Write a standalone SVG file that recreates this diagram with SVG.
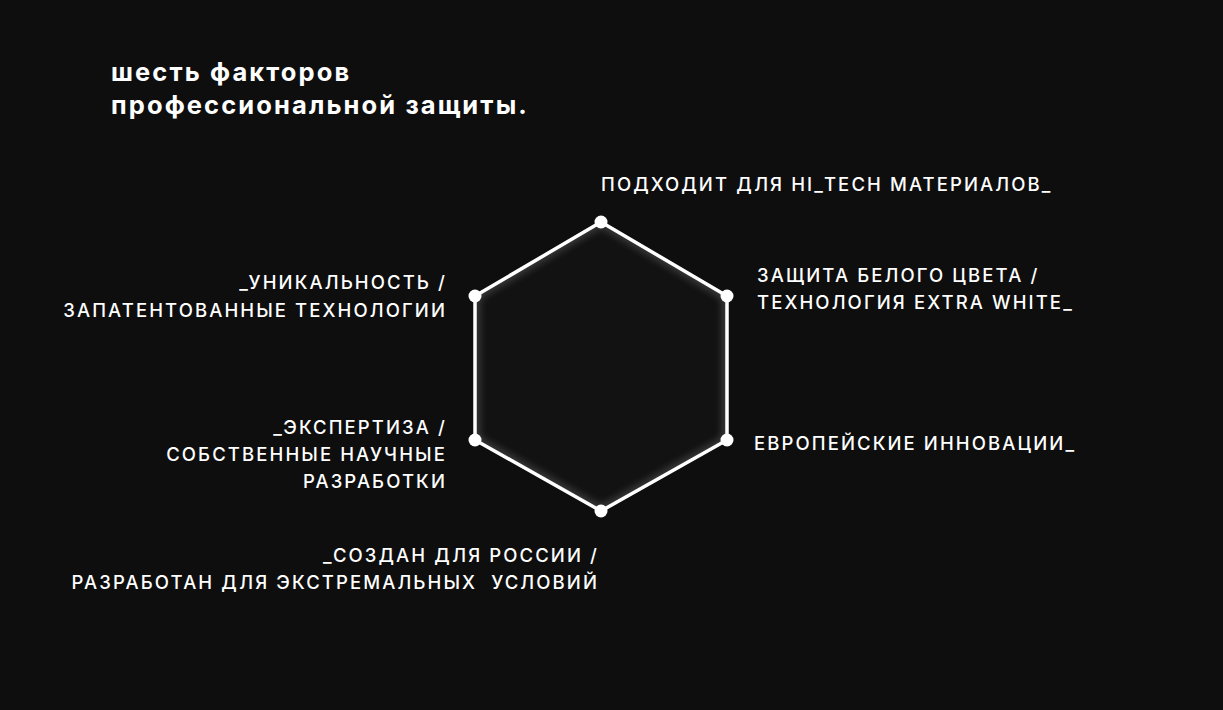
<svg xmlns="http://www.w3.org/2000/svg" width="1223" height="710" viewBox="0 0 1223 710">
<defs>
<style>
.t{font-family:Inter,"Noto Sans",sans-serif;fill:#fff}
.title{font-size:25.5px;font-weight:700;letter-spacing:2.1px}
.lbl{font-size:18.5px;font-weight:500;letter-spacing:2.1px}
.pre{white-space:pre}
.dot{fill:#fff}
</style>
<clipPath id="hexclip"><polygon points="601,222 727,296 727,440 601,511 475,440 475,296"/></clipPath>
<filter id="blur" x="-20%" y="-20%" width="140%" height="140%"><feGaussianBlur stdDeviation="5"/></filter>
</defs>
<rect width="1223" height="710" fill="#0e0e0e"/>
<g id="title">
<text class="t title" x="111" y="81">шесть факторов</text>
<text class="t title" x="111" y="114">профессиональной защиты.</text>
</g>
<g id="hexagon">
<polygon points="601,222 727,296 727,440 601,511 475,440 475,296" fill="#121212"/>
<g clip-path="url(#hexclip)">
<polygon points="601,222 727,296 727,440 601,511 475,440 475,296" fill="none" stroke="#fff" stroke-width="6" opacity="0.3" filter="url(#blur)"/>
</g>
</g>
<g id="connectors">
<polygon points="601,222 727,296 727,440 601,511 475,440 475,296" fill="none" stroke="#fff" stroke-width="3.5" stroke-linejoin="round"/>
</g>
<g id="n-top"><circle class="dot" cx="601" cy="222" r="6.5"/><text class="t lbl" x="601" y="191">ПОДХОДИТ ДЛЯ HI_TECH МАТЕРИАЛОВ_</text></g>
<g id="n-ur"><circle class="dot" cx="727" cy="296" r="6.5"/><text class="t lbl" x="757" y="282">ЗАЩИТА БЕЛОГО ЦВЕТА /</text><text class="t lbl" x="757" y="309">ТЕХНОЛОГИЯ EXTRA WHITE_</text></g>
<g id="n-lr"><circle class="dot" cx="727" cy="440" r="6.5"/><text class="t lbl" x="754" y="450">ЕВРОПЕЙСКИЕ ИННОВАЦИИ_</text></g>
<g id="n-bottom"><circle class="dot" cx="601" cy="511" r="6.5"/><text class="t lbl" x="599" y="562" text-anchor="end">_СОЗДАН ДЛЯ РОССИИ /</text><text class="t lbl pre" x="599" y="589" text-anchor="end" xml:space="preserve">РАЗРАБОТАН ДЛЯ ЭКСТРЕМАЛЬНЫХ  УСЛОВИЙ</text></g>
<g id="n-ll"><circle class="dot" cx="475" cy="440" r="6.5"/><text class="t lbl" x="447" y="434" text-anchor="end">_ЭКСПЕРТИЗА /</text><text class="t lbl" x="447" y="461" text-anchor="end">СОБСТВЕННЫЕ НАУЧНЫЕ</text><text class="t lbl" x="447" y="488" text-anchor="end">РАЗРАБОТКИ</text></g>
<g id="n-ul"><circle class="dot" cx="475" cy="296" r="6.5"/><text class="t lbl" x="447" y="289" text-anchor="end">_УНИКАЛЬНОСТЬ /</text><text class="t lbl" x="447" y="317" text-anchor="end">ЗАПАТЕНТОВАННЫЕ ТЕХНОЛОГИИ</text></g>
</svg>
